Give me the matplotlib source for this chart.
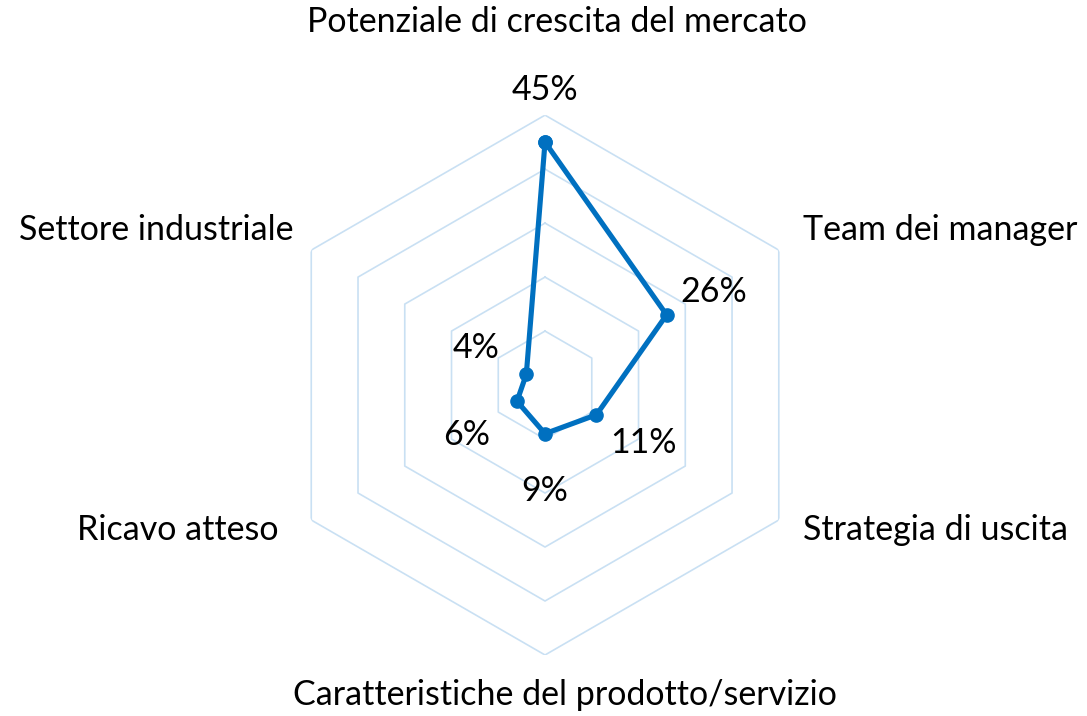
import numpy as np
import matplotlib.pyplot as plt

categorie = ["Potenziale di crescita del mercato", "Team dei manager", "Strategia di uscita",
             "Caratteristiche del prodotto/servizio", "Ricavo atteso", "Settore industriale"]
valori = [45, 26, 11, 9, 6, 4]
anelli = [10, 20, 30, 40, 50]

# spostamenti delle etichette (pixel) e allineamenti
off_cat = [(12, 93, "center"), (24, 20, "left"), (24, -10, "left"),
           (20, -40, "center"), (-33, -10, "right"), (-18, 20, "right")]
off_val = [(0, 52), (47, 23), (47, -28), (0, -57), (-50, -34), (-50, 26)]

plt.rcParams['font.family'] = ['Lato', 'DejaVu Sans']

fig = plt.figure(figsize=(10.87, 7.16), dpi=100)
ax = fig.add_axes([0.253, 0.0852, 0.4968, 0.754], projection='polar')
ax.set_theta_offset(np.pi / 2)
ax.set_theta_direction(-1)
ax.set_ylim(0, 50)
ax.grid(False)
ax.spines['polar'].set_visible(False)
ax.set_xticks([])
ax.set_yticks([])

ang = np.linspace(0, 2 * np.pi, len(categorie), endpoint=False)
ang_chiuso = np.append(ang, ang[0])

for r in anelli:
    ax.plot(ang_chiuso, [r] * len(ang_chiuso), color='#c9e0f3', lw=1.2, zorder=1)

ax.plot(ang_chiuso, valori + [valori[0]], color='#0070c0', lw=3.7, marker='o',
        markersize=9.5, zorder=3, clip_on=False)

for a, v, o in zip(ang, valori, off_val):
    ax.annotate(f"{v}%", (a, v), xytext=o, textcoords='offset pixels',
                ha='center', va='center', fontsize=24.5, color='black')

for a, c, (dx, dy, ha) in zip(ang, categorie, off_cat):
    ax.annotate(c, (a, anelli[-1]), xytext=(dx, dy), textcoords='offset pixels',
                ha=ha, va='center', fontsize=24.5, color='black', annotation_clip=False)

fig.savefig('out.png', dpi=100)
